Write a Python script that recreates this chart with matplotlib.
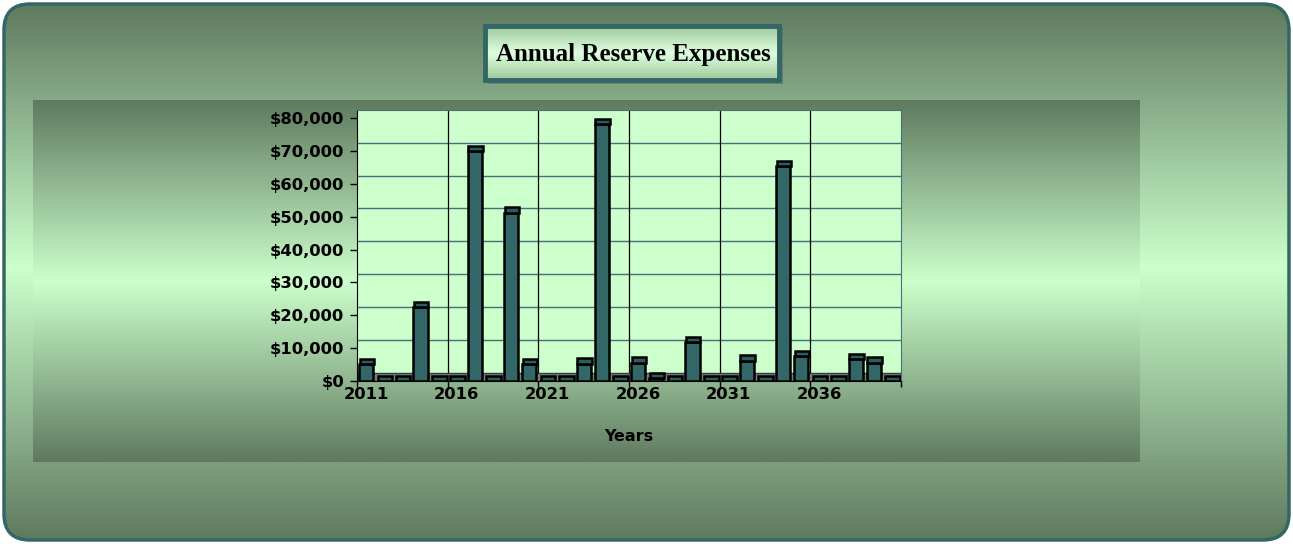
import numpy as np
import matplotlib.pyplot as plt
from matplotlib.patches import FancyBboxPatch, Rectangle
from matplotlib.colors import to_rgb

years = list(range(2011, 2041))
expenses = [5200, 0, 0, 22400, 0, 0, 70000, 0, 51300, 5100,
            0, 0, 5300, 78300, 0, 5600, 900, 0, 11800, 0,
            0, 6200, 0, 65500, 7600, 0, 0, 6700, 5600, 0]
y_ticks = list(range(0, 80001, 10000))
label_years = [2011, 2016, 2021, 2026, 2031, 2036]

W, H = 1293, 544
DARK = '#5f7a5f'
LIGHT = '#ccffcc'
TEAL = '#336666'


def vgradient(ax, x0, y0, x1, y1, stops, clip=None, zorder=0):
    # stops: list of (fraction from top, colour)
    n = 256
    t = np.linspace(0, 1, n)
    pos = [s[0] for s in stops]
    cols = np.array([to_rgb(s[1]) for s in stops])
    rgb = np.stack([np.interp(t, pos, cols[:, i]) for i in range(3)], axis=1)
    img = ax.imshow(rgb[:, None, :], extent=(x0, x1, y1, y0), origin='upper',
                    aspect='auto', interpolation='bilinear', zorder=zorder)
    if clip is not None:
        img.set_clip_path(clip)
    return img


fig = plt.figure(figsize=(W / 100, H / 100), dpi=100)
bg = fig.add_axes([0, 0, 1, 1])
bg.set_xlim(0, W)
bg.set_ylim(H, 0)
bg.axis('off')

# outer rounded panel
panel = FancyBboxPatch((4, 4), W - 8, H - 8, boxstyle='round,pad=0,rounding_size=26',
                       facecolor='none', edgecolor=TEAL, linewidth=2.5, zorder=3)
bg.add_patch(panel)
vgradient(bg, 4, 4, W - 4, H - 4, [(0, DARK), (0.49, LIGHT), (1, DARK)], clip=panel, zorder=1)

# plot area backdrop
vgradient(bg, 33, 100, 1140, 462, [(0, DARK), (0.5, LIGHT), (1, DARK)], zorder=2)

# title box
bg.add_patch(Rectangle((488, 28), 295, 56, facecolor='#4f6a5a', edgecolor='none', alpha=0.5, zorder=3))
title_box = Rectangle((485, 26), 294, 54, facecolor='none', edgecolor=TEAL, linewidth=3.5, zorder=5)
bg.add_patch(title_box)
vgradient(bg, 485, 26, 779, 80, [(0, '#9cc89c'), (0.5, '#e0ffe0'), (1, '#9cc89c')], zorder=4)
bg.text(633, 54, 'Annual Reserve Expenses', family='Liberation Serif', weight='bold',
        fontsize=18, ha='center', va='center', zorder=6)

# chart axes
left, right, top, bottom = 357, 901, 110, 381
ax = fig.add_axes([left / W, 1 - bottom / H, (right - left) / W, (bottom - top) / H])
ax.set_facecolor(LIGHT)
ax.set_zorder(5)

x = np.arange(len(years))
vals = np.array(expenses, dtype=float)
depth = 2530
cap_h = 1600
ymax = 82520

ax.set_xlim(-0.5, len(years) - 0.5)
ax.set_ylim(0, ymax)

# back wall grid and floor
ax.hlines([v + depth for v in y_ticks[1:-1]], -0.5, len(years) - 0.5, color='#46707a', lw=1, zorder=1)
ax.vlines(np.arange(4.5, len(years) - 1, 5), 0, ymax, color='black', lw=0.9, zorder=1)
ax.axhspan(0, depth, facecolor='#7d7d7d', edgecolor='#3a3a3a', lw=1, zorder=2)

ax.bar(x, vals, width=0.78, color=TEAL, edgecolor='black', linewidth=1.8, zorder=3)
ax.bar(x + 0.04, cap_h, bottom=vals, width=0.8, color='#2e5c5c', edgecolor='black',
       linewidth=1.8, zorder=4)

ax.set_yticks(y_ticks)
ax.set_yticklabels([f'${v:,.0f}' for v in y_ticks])
ax.set_xticks([years.index(y) for y in label_years])
ax.set_xticklabels([str(y) for y in label_years])
ax.set_xticks(np.arange(-0.5, len(years), 5), minor=True)
ax.tick_params(axis='y', length=5, width=1, pad=4, labelsize=11.8)
ax.tick_params(axis='x', which='major', length=0, pad=4, labelsize=11.8)
ax.tick_params(axis='x', which='minor', length=4, width=1)
for lab in ax.get_xticklabels() + ax.get_yticklabels():
    lab.set_fontweight('bold')
ax.set_xlabel('Years', fontsize=11.5, fontweight='bold', labelpad=20)

ax.spines['left'].set_color('black')
ax.spines['bottom'].set_color('black')
ax.spines['top'].set_color('#46707a')
ax.spines['right'].set_color('#46707a')

fig.savefig('out.png', dpi=100)
